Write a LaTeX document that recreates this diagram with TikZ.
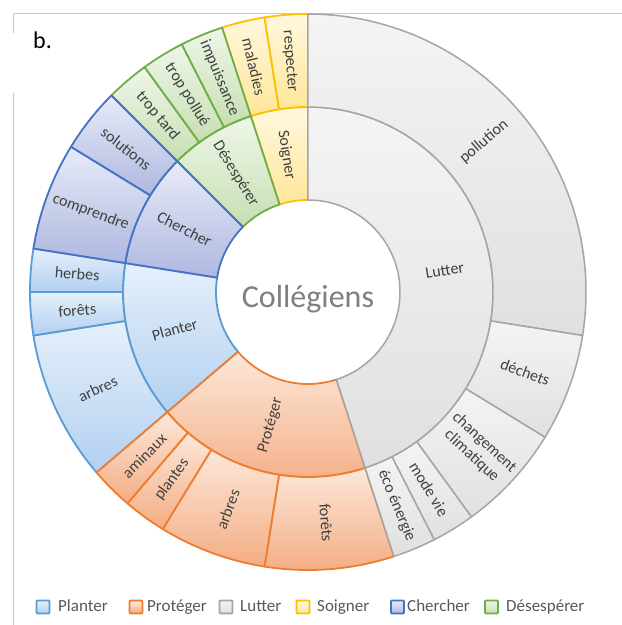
\documentclass[tikz,border=0pt]{standalone}
\usepackage{fontspec}
\setmainfont{Carlito}
\definecolor{plB}{HTML}{5B9BD5}\definecolor{plT}{HTML}{E6F0FB}\definecolor{plD}{HTML}{B2D0F0}
\definecolor{prB}{HTML}{ED7D31}\definecolor{prT}{HTML}{FCE8DA}\definecolor{prD}{HTML}{F4AC82}
\definecolor{luB}{HTML}{A5A5A5}\definecolor{luT}{HTML}{F4F4F4}\definecolor{luD}{HTML}{E0E0E0}
\definecolor{soB}{HTML}{FFC000}\definecolor{soT}{HTML}{FFF8DE}\definecolor{soD}{HTML}{FFE699}
\definecolor{chB}{HTML}{4472C4}\definecolor{chT}{HTML}{E8EBF7}\definecolor{chD}{HTML}{AEB8E0}
\definecolor{deB}{HTML}{70AD47}\definecolor{deT}{HTML}{EFF6E9}\definecolor{deD}{HTML}{C6DFB2}
\definecolor{lblC}{HTML}{404040}\definecolor{legC}{HTML}{595959}\definecolor{ctrC}{HTML}{7F7F7F}
\definecolor{frameC}{HTML}{C8C8C8}
\tikzset{
  gPl/.style={draw=plB, line width=1.8pt, top color=plT, bottom color=plD, line join=round},
  gPr/.style={draw=prB, line width=1.8pt, top color=prT, bottom color=prD, line join=round},
  gLu/.style={draw=luB, line width=1.5pt, top color=luT, bottom color=luD, line join=round},
  gSo/.style={draw=soB, line width=1.8pt, top color=soT, bottom color=soD, line join=round},
  gCh/.style={draw=chB, line width=1.8pt, top color=chT, bottom color=chD, line join=round},
  gDe/.style={draw=deB, line width=1.8pt, top color=deT, bottom color=deD, line join=round},
  lbl/.style={font=\fontsize{16}{18.5}\selectfont, text=lblC, align=center, inner sep=0pt},
  legsq/.style={minimum size=13pt, inner sep=0pt, rounded corners=1pt, line width=1.8pt},
  legtxt/.style={font=\fontsize{17}{19}\selectfont, text=legC, anchor=base west, inner sep=0pt},
  frameline/.style={draw=frameC, line width=0.8pt}
}
% #1 name, #2 r1, #3 r2, #4 a1, #5 a2, #6 style, #7 label
\newcommand{\sunsect}[7]{%
  \path[#6] (#4:#2) arc[start angle=#4, end angle=#5, radius=#2]
     -- (#5:#3) arc[start angle=#5, end angle=#4, radius=#3] -- cycle;
  \pgfmathsetmacro\midA{(#4+#5)/2}%
  \pgfmathsetmacro\midR{(#2+#3)/2}%
  \pgfmathsetmacro\rotA{mod(\midA+810,180)-90}%
  \node[lbl, rotate=\rotA] (#1) at (\midA:\midR) {#7};%
}
\begin{document}
\begin{tikzpicture}[x=1pt,y=1pt]
\useasboundingbox (-308,-333) rectangle (314,292);
\fill[white] (-308,-333) rectangle (314,292);
% frame
\draw[frameline] (-295,279) -- (314,279);
\draw[frameline] (-295,279) -- (-295,259);
\draw[frameline] (-295,199) -- (-295,-333);
\def\ra{92}\def\rb{185}\def\rc{278}
% Soigner
\sunsect{iSo}{\ra}{\rb}{-252}{-270}{gSo}{Soigner}
\sunsect{oMal}{\rb}{\rc}{-252}{-261}{gSo}{maladies}
\sunsect{oRes}{\rb}{\rc}{-261}{-270}{gSo}{respecter}
% Desesperer
\sunsect{iDe}{\ra}{\rb}{-225}{-252}{gDe}{Désespérer}
\sunsect{oTt}{\rb}{\rc}{-225}{-234}{gDe}{trop tard}
\sunsect{oTp}{\rb}{\rc}{-234}{-243}{gDe}{trop pollué}
\sunsect{oImp}{\rb}{\rc}{-243}{-252}{gDe}{impuissance}
% Planter
\sunsect{iPl}{\ra}{\rb}{-139.5}{-189}{gPl}{Planter}
\sunsect{oPlA}{\rb}{\rc}{-139.5}{-171}{gPl}{arbres}
\sunsect{oPlF}{\rb}{\rc}{-171}{-180}{gPl}{forêts}
\sunsect{oPlH}{\rb}{\rc}{-180}{-189}{gPl}{herbes}
% Chercher
\sunsect{iCh}{\ra}{\rb}{-189}{-225}{gCh}{Chercher}
\sunsect{oCom}{\rb}{\rc}{-189}{-211.5}{gCh}{comprendre}
\sunsect{oSol}{\rb}{\rc}{-211.5}{-225}{gCh}{solutions}
% Proteger
\sunsect{iPr}{\ra}{\rb}{-72}{-139.5}{gPr}{Protéger}
\sunsect{oPrF}{\rb}{\rc}{-72}{-99}{gPr}{forêts}
\sunsect{oPrA}{\rb}{\rc}{-99}{-121.5}{gPr}{arbres}
\sunsect{oPrP}{\rb}{\rc}{-121.5}{-130.5}{gPr}{plantes}
\sunsect{oPrAm}{\rb}{\rc}{-130.5}{-139.5}{gPr}{aminaux}
% Lutter
\sunsect{iLu}{\ra}{\rb}{90}{-72}{gLu}{Lutter}
\sunsect{oPol}{\rb}{\rc}{90}{-9}{gLu}{pollution}
\sunsect{oDec}{\rb}{\rc}{-9}{-31.5}{gLu}{déchets}
\sunsect{oCc}{\rb}{\rc}{-31.5}{-54}{gLu}{changement\\climatique}
\sunsect{oMv}{\rb}{\rc}{-54}{-63}{gLu}{mode vie}
\sunsect{oEco}{\rb}{\rc}{-63}{-72}{gLu}{éco énergie}
% centre
\node[font=\fontsize{32}{36}\selectfont, text=ctrC, anchor=base, inner sep=0pt] (ctr) at (0,-15) {Collégiens};
% panel letter
\node[font=\fontsize{24}{26}\selectfont, anchor=base west, inner sep=0pt] (panel) at (-275,244) {b.};
% legend
\node[legsq, draw=plB, top color=plT, bottom color=plD] (sqPl) at (-265,-315) {};
\node[legtxt] (tPl) at (-250,-319) {Planter};
\node[legsq, draw=prB, top color=prT, bottom color=prD] (sqPr) at (-172,-315) {};
\node[legtxt] (tPr) at (-161,-319) {Protéger};
\node[legsq, draw=luB, top color=luT, bottom color=luD] (sqLu) at (-82,-315) {};
\node[legtxt] (tLu) at (-68,-319) {Lutter};
\node[legsq, draw=soB, top color=soT, bottom color=soD] (sqSo) at (-5,-315) {};
\node[legtxt] (tSo) at (9,-319) {Soigner};
\node[legsq, draw=chB, top color=chT, bottom color=chD] (sqCh) at (89.5,-315) {};
\node[legtxt] (tCh) at (99,-319) {Chercher};
\node[legsq, draw=deB, top color=deT, bottom color=deD] (sqDe) at (183.5,-315) {};
\node[legtxt] (tDe) at (198,-319) {Désespérer};
\end{tikzpicture}
\end{document}
